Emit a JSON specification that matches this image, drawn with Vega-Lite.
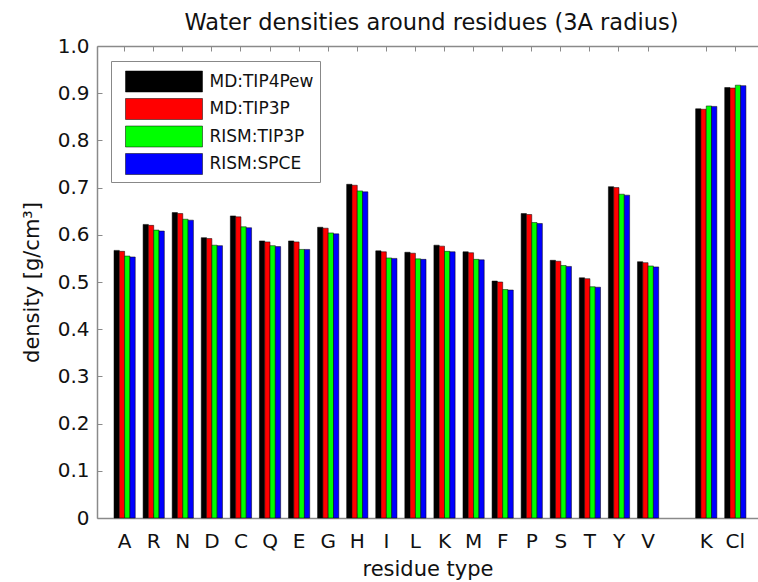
{
  "$schema": "https://vega.github.io/schema/vega-lite/v6.json",
  "width": 661,
  "height": 472,
  "autosize": {"type": "none"},
  "padding": {"left": 97, "top": 46, "right": 0, "bottom": 64},
  "background": "white",
  "config": {
    "view": {"stroke": null},
    "axis": {"domainColor": "#8a8a8a", "domainWidth": 1.5, "tickColor": "#8a8a8a", "tickWidth": 1, "tickSize": -5, "labelFont": "DejaVu Sans", "labelFontSize": 20, "labelColor": "#111", "titleFont": "DejaVu Sans", "titleFontSize": 21, "titleFontWeight": "normal", "titleColor": "#111", "grid": false},
    "legend": {"orient": "none", "legendX": 14, "legendY": 15, "symbolType": "M-2.75,-0.75H2.75V0.75H-2.75Z", "symbolSize": 784, "symbolStrokeColor": "black", "symbolStrokeWidth": 0.5, "symbolOpacity": 1, "symbolOffset": 32.5, "labelOffset": 31, "labelFont": "DejaVu Sans", "labelFontSize": 17, "labelColor": "#111", "strokeColor": "#888", "fillColor": "white", "padding": 6, "rowPadding": 1.5}
  },
  "data": {"values": [
    {"r": "A", "s": "MD:TIP4Pew", "v": 0.567}, {"r": "A", "s": "MD:TIP3P", "v": 0.565}, {"r": "A", "s": "RISM:TIP3P", "v": 0.555}, {"r": "A", "s": "RISM:SPCE", "v": 0.553},
    {"r": "R", "s": "MD:TIP4Pew", "v": 0.622}, {"r": "R", "s": "MD:TIP3P", "v": 0.620}, {"r": "R", "s": "RISM:TIP3P", "v": 0.610}, {"r": "R", "s": "RISM:SPCE", "v": 0.608},
    {"r": "N", "s": "MD:TIP4Pew", "v": 0.647}, {"r": "N", "s": "MD:TIP3P", "v": 0.645}, {"r": "N", "s": "RISM:TIP3P", "v": 0.633}, {"r": "N", "s": "RISM:SPCE", "v": 0.631},
    {"r": "D", "s": "MD:TIP4Pew", "v": 0.594}, {"r": "D", "s": "MD:TIP3P", "v": 0.592}, {"r": "D", "s": "RISM:TIP3P", "v": 0.578}, {"r": "D", "s": "RISM:SPCE", "v": 0.577},
    {"r": "C", "s": "MD:TIP4Pew", "v": 0.640}, {"r": "C", "s": "MD:TIP3P", "v": 0.638}, {"r": "C", "s": "RISM:TIP3P", "v": 0.617}, {"r": "C", "s": "RISM:SPCE", "v": 0.615},
    {"r": "Q", "s": "MD:TIP4Pew", "v": 0.587}, {"r": "Q", "s": "MD:TIP3P", "v": 0.585}, {"r": "Q", "s": "RISM:TIP3P", "v": 0.577}, {"r": "Q", "s": "RISM:SPCE", "v": 0.575},
    {"r": "E", "s": "MD:TIP4Pew", "v": 0.587}, {"r": "E", "s": "MD:TIP3P", "v": 0.585}, {"r": "E", "s": "RISM:TIP3P", "v": 0.569}, {"r": "E", "s": "RISM:SPCE", "v": 0.569},
    {"r": "G", "s": "MD:TIP4Pew", "v": 0.616}, {"r": "G", "s": "MD:TIP3P", "v": 0.614}, {"r": "G", "s": "RISM:TIP3P", "v": 0.604}, {"r": "G", "s": "RISM:SPCE", "v": 0.602},
    {"r": "H", "s": "MD:TIP4Pew", "v": 0.707}, {"r": "H", "s": "MD:TIP3P", "v": 0.705}, {"r": "H", "s": "RISM:TIP3P", "v": 0.693}, {"r": "H", "s": "RISM:SPCE", "v": 0.691},
    {"r": "I", "s": "MD:TIP4Pew", "v": 0.566}, {"r": "I", "s": "MD:TIP3P", "v": 0.564}, {"r": "I", "s": "RISM:TIP3P", "v": 0.551}, {"r": "I", "s": "RISM:SPCE", "v": 0.550},
    {"r": "L", "s": "MD:TIP4Pew", "v": 0.563}, {"r": "L", "s": "MD:TIP3P", "v": 0.561}, {"r": "L", "s": "RISM:TIP3P", "v": 0.549}, {"r": "L", "s": "RISM:SPCE", "v": 0.548},
    {"r": "K", "s": "MD:TIP4Pew", "v": 0.578}, {"r": "K", "s": "MD:TIP3P", "v": 0.576}, {"r": "K", "s": "RISM:TIP3P", "v": 0.565}, {"r": "K", "s": "RISM:SPCE", "v": 0.564},
    {"r": "M", "s": "MD:TIP4Pew", "v": 0.564}, {"r": "M", "s": "MD:TIP3P", "v": 0.562}, {"r": "M", "s": "RISM:TIP3P", "v": 0.548}, {"r": "M", "s": "RISM:SPCE", "v": 0.547},
    {"r": "F", "s": "MD:TIP4Pew", "v": 0.502}, {"r": "F", "s": "MD:TIP3P", "v": 0.500}, {"r": "F", "s": "RISM:TIP3P", "v": 0.484}, {"r": "F", "s": "RISM:SPCE", "v": 0.483},
    {"r": "P", "s": "MD:TIP4Pew", "v": 0.645}, {"r": "P", "s": "MD:TIP3P", "v": 0.643}, {"r": "P", "s": "RISM:TIP3P", "v": 0.626}, {"r": "P", "s": "RISM:SPCE", "v": 0.624},
    {"r": "S", "s": "MD:TIP4Pew", "v": 0.546}, {"r": "S", "s": "MD:TIP3P", "v": 0.544}, {"r": "S", "s": "RISM:TIP3P", "v": 0.535}, {"r": "S", "s": "RISM:SPCE", "v": 0.533},
    {"r": "T", "s": "MD:TIP4Pew", "v": 0.509}, {"r": "T", "s": "MD:TIP3P", "v": 0.507}, {"r": "T", "s": "RISM:TIP3P", "v": 0.490}, {"r": "T", "s": "RISM:SPCE", "v": 0.489},
    {"r": "Y", "s": "MD:TIP4Pew", "v": 0.702}, {"r": "Y", "s": "MD:TIP3P", "v": 0.700}, {"r": "Y", "s": "RISM:TIP3P", "v": 0.686}, {"r": "Y", "s": "RISM:SPCE", "v": 0.684},
    {"r": "V", "s": "MD:TIP4Pew", "v": 0.543}, {"r": "V", "s": "MD:TIP3P", "v": 0.541}, {"r": "V", "s": "RISM:TIP3P", "v": 0.534}, {"r": "V", "s": "RISM:SPCE", "v": 0.532},
    {"r": "Kion", "s": "MD:TIP4Pew", "v": 0.867}, {"r": "Kion", "s": "MD:TIP3P", "v": 0.866}, {"r": "Kion", "s": "RISM:TIP3P", "v": 0.873}, {"r": "Kion", "s": "RISM:SPCE", "v": 0.872},
    {"r": "Cl", "s": "MD:TIP4Pew", "v": 0.912}, {"r": "Cl", "s": "MD:TIP3P", "v": 0.911}, {"r": "Cl", "s": "RISM:TIP3P", "v": 0.917}, {"r": "Cl", "s": "RISM:SPCE", "v": 0.916}
  ]},
  "layer": [
    {
      "mark": {"type": "bar", "stroke": "black", "strokeWidth": 0.5},
      "encoding": {
        "x": {"field": "r", "type": "nominal",
          "scale": {"domain": ["A","R","N","D","C","Q","E","G","H","I","L","K","M","F","P","S","T","Y","V","gap","Kion","Cl"], "paddingInner": 0.27, "paddingOuter": 0.5, "align": 0.585},
          "axis": {"orient": "bottom", "title": "residue type", "labelAngle": 0, "labelPadding": 18, "titlePadding": 7,
            "values": ["A","R","N","D","C","Q","E","G","H","I","L","K","M","F","P","S","T","Y","V","Kion","Cl"],
            "labelExpr": "datum.value == 'Kion' ? 'K' : datum.value"}},
        "xOffset": {"field": "s", "type": "nominal", "sort": ["MD:TIP4Pew","MD:TIP3P","RISM:TIP3P","RISM:SPCE"], "scale": {"paddingInner": 0, "paddingOuter": 0}},
        "y": {"field": "v", "type": "quantitative",
          "scale": {"domain": [0, 1], "nice": false},
          "axis": {"title": "density [g/cm³]", "values": [0,0.1,0.2,0.3,0.4,0.5,0.6,0.7,0.8,0.9,1.0], "labelExpr": "datum.value == 0 ? '0' : format(datum.value, '.1f')", "labelPadding": 13, "titlePadding": 15}},
        "color": {"field": "s", "type": "nominal", "title": null,
          "scale": {"domain": ["MD:TIP4Pew","MD:TIP3P","RISM:TIP3P","RISM:SPCE"], "range": ["#000000","#ff0000","#00ff00","#0000ff"]}}
      }
    },
    {
      "mark": {"type": "bar", "opacity": 0},
      "encoding": {
        "x": {"field": "r", "type": "nominal",
          "scale": {"domain": ["A","R","N","D","C","Q","E","G","H","I","L","K","M","F","P","S","T","Y","V","gap","Kion","Cl"], "paddingInner": 0.27, "paddingOuter": 0.5, "align": 0.585},
          "axis": {"orient": "top", "title": "Water densities around residues (3A radius)", "titleFontSize": 22.5, "titlePadding": 11, "titleX": 334, "labels": false,
            "values": ["A","R","N","D","C","Q","E","G","H","I","L","K","M","F","P","S","T","Y","V","Kion","Cl"]}},
        "y": {"field": "v", "type": "quantitative",
          "scale": {"domain": [0, 1], "nice": false},
          "axis": {"title": "density [g/cm³]", "values": [0,0.1,0.2,0.3,0.4,0.5,0.6,0.7,0.8,0.9,1.0], "labelExpr": "datum.value == 0 ? '0' : format(datum.value, '.1f')", "labelPadding": 13, "titlePadding": 15}}
      }
    }
  ],
  "resolve": {"axis": {"x": "independent"}}
}
